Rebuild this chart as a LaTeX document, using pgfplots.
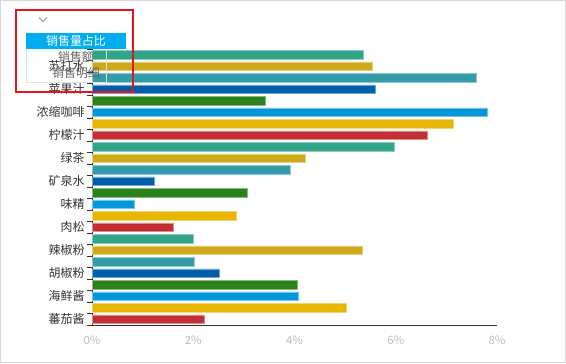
\documentclass[border=0pt]{standalone}
\usepackage{pgfplots}
\pgfplotsset{compat=1.18}
\usepackage{fontspec}
\setmainfont{Noto Sans CJK SC}
\definecolor{cred}{HTML}{C12E34}
\definecolor{cyellow}{HTML}{E6B600}
\definecolor{clblue}{HTML}{0098D9}
\definecolor{cgreen}{HTML}{2B821D}
\definecolor{cdblue}{HTML}{005EAA}
\definecolor{cteal}{HTML}{339CA8}
\definecolor{cgold}{HTML}{CDA819}
\definecolor{cgteal}{HTML}{32A487}
\definecolor{txt}{HTML}{333333}
\definecolor{ltxt}{HTML}{BBBBBB}
\definecolor{menublue}{HTML}{00AEEF}
\definecolor{annot}{RGB}{230,20,30}
\begin{document}
\begin{tikzpicture}[x=1bp,y=1bp]
\path[use as bounding box] (0,0) rectangle (566,363);
\draw[color={rgb,255:red,215;green,215;blue,215}] (0.5,0.5) rectangle (565.5,362.5);
\begin{axis}[
  at={(92bp,38bp)}, anchor=south west,
  scale only axis, width=405bp, height=276bp,
  xmin=0, xmax=8, ymin=0.5, ymax=24.5,
  axis x line*=bottom, axis y line*=left,
  axis line style={txt, line width=0.8bp},
  xbar, bar width=8.6bp,
  every axis plot/.append style={bar shift=0pt},
  xtick={0,2,4,6,8},
  xticklabel={\pgfmathprintnumber{\tick}\%},
  /pgf/number format/assume math mode=true,
  xticklabel style={ltxt, font=\fontsize{11.5}{13}\selectfont, yshift=-7bp},
  x tick style={draw=none},
  ytick={1,3,...,23},
  yticklabels={蕃茄酱,海鲜酱,胡椒粉,辣椒粉,肉松,味精,矿泉水,绿茶,柠檬汁,浓缩咖啡,苹果汁,苏打水},
  yticklabel style={txt, font=\fontsize{12}{14}\selectfont, xshift=-4bp},
  minor ytick={0.5,1.5,...,24.5},
  major tick length=0pt, minor tick length=5bp,
  tick align=outside,
  y tick style={txt, line width=0.8bp},
  clip=false,
]
\addplot[fill=cred, draw=cred!55!white, line width=0.6bp] coordinates {(2.21,1) (1.60,9) (6.62,17)};
\addplot[fill=cyellow, draw=cyellow!55!white, line width=0.6bp] coordinates {(5.02,2) (2.86,10) (7.13,18)};
\addplot[fill=clblue, draw=clblue!55!white, line width=0.6bp] coordinates {(4.07,3) (0.83,11) (7.80,19)};
\addplot[fill=cgreen, draw=cgreen!55!white, line width=0.6bp] coordinates {(4.05,4) (3.06,12) (3.42,20)};
\addplot[fill=cdblue, draw=cdblue!55!white, line width=0.6bp] coordinates {(2.51,5) (1.24,13) (5.59,21)};
\addplot[fill=cteal, draw=cteal!55!white, line width=0.6bp] coordinates {(2.03,6) (3.91,14) (7.59,22)};
\addplot[fill=cgold, draw=cgold!55!white, line width=0.6bp] coordinates {(5.33,7) (4.21,15) (5.53,23)};
\addplot[fill=cgteal, draw=cgteal!55!white, line width=0.6bp] coordinates {(2.01,8) (5.97,16) (5.35,24)};
\end{axis}
% dropdown menu overlay
\draw[color={rgb,255:red,170;green,170;blue,170}, line width=1.1bp] (39,345.5) -- (43,341.5) -- (47,345.5);
\draw[color={rgb,255:red,225;green,225;blue,225}, line width=0.7bp] (26.5,314) -- (26.5,281) -- (106.5,281) -- (106.5,314);
\fill[menublue] (26,314) rectangle (126,330);
\node[white, font=\fontsize{12}{14}\selectfont] at (76,322) {销售量占比};
\node[color={rgb,255:red,100;green,100;blue,100}, font=\fontsize{12}{14}\selectfont] at (76,306) {销售额};
\node[color={rgb,255:red,100;green,100;blue,100}, font=\fontsize{12}{14}\selectfont] at (76,290) {销售明细};
\draw[annot, line width=2bp] (16,352.5) rectangle (132.5,271);
\end{tikzpicture}
\end{document}
